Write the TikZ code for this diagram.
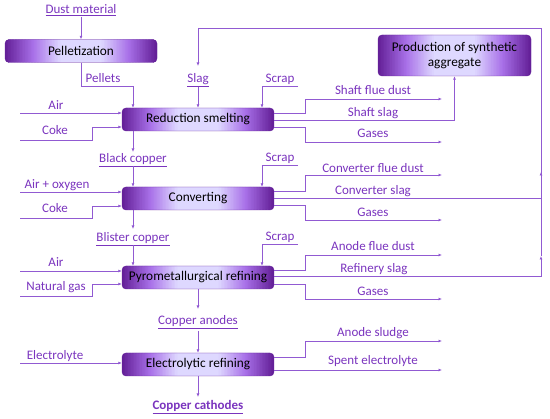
\documentclass[tikz,border=0pt]{standalone}
\usepackage{fontspec}
\setmainfont{Carlito}
\usetikzlibrary{arrows.meta,calc}
\definecolor{boxdark}{RGB}{100,32,152}
\definecolor{boxmid}{RGB}{168,112,232}
\definecolor{boxlight}{RGB}{222,216,255}
\definecolor{txtp}{RGB}{122,52,190}
\definecolor{linep}{RGB}{145,90,210}
\newcommand{\boxgrad}{%
  \foreach \i in {0,...,35}{%
    \pgfmathtruncatemacro\pc{\i<18 ? \i*100/18 : (\i-18)*100/18}%
    \ifnum\i<18 \colorlet{stc}{boxmid!\pc!boxdark}\else\colorlet{stc}{boxlight!\pc!boxmid}\fi
    \pgfmathsetmacro\fa{\i/100}\pgfmathsetmacro\fb{(\i+1.5)/100}%
    \fill[stc] ([yshift=-3pt]$(path picture bounding box.south west)!\fa!(path picture bounding box.south east)$) rectangle ([yshift=3pt]$(path picture bounding box.north west)!\fb!(path picture bounding box.north east)$);
    \pgfmathsetmacro\fa{1-\i/100}\pgfmathsetmacro\fb{1-(\i+1.5)/100}%
    \fill[stc] ([yshift=-3pt]$(path picture bounding box.south west)!\fa!(path picture bounding box.south east)$) rectangle ([yshift=3pt]$(path picture bounding box.north west)!\fb!(path picture bounding box.north east)$);
  }}
\begin{document}
\begin{tikzpicture}[x=1pt,y=-1pt,
  procbox/.style={rounded corners=4pt, fill=boxlight, draw=boxdark, line width=0.4pt,
    path picture={\boxgrad},
    minimum width=152pt, minimum height=23pt, font=\fontsize{13.3}{15}\selectfont, text=black, inner sep=0pt},
  lbl/.style={text=txtp, font=\fontsize{13}{15}\selectfont, inner sep=0pt, anchor=base},
  ln/.style={draw=linep, line width=0.7pt},
  arr/.style={ln, -{Latex[length=3.5pt,width=3pt]}}]
\useasboundingbox (0,0) rectangle (550,419);

% process boxes
\node[procbox] (pel) at (81,51) {Pelletization};
\node[procbox] (rs) at (198,119.5) {Reduction smelting};
\node[procbox, minimum width=153pt, minimum height=41pt, align=center] (psa) at (454.5,55.5) {Production of synthetic\\aggregate};
\node[procbox] (cv) at (198,198.5) {Converting};
\node[procbox] (pr) at (198,277.5) {Pyrometallurgical refining};
\node[procbox] (el) at (198,364.5) {Electrolytic refining};

% top / main flow labels
\node[lbl] (dust) at (81,14) {\underline{Dust material}};
\node[lbl] (pell) at (103,83) {Pellets};
\node[lbl] (slag) at (198,83) {\underline{Slag}};
\node[lbl] (scr1) at (280,83) {Scrap};
\node[lbl] (bc) at (133,163) {\underline{Black copper}};
\node[lbl] (scr2) at (280,162) {Scrap};
\node[lbl] (blc) at (133,242) {\underline{Blister copper}};
\node[lbl] (scr3) at (280,241) {Scrap};
\node[lbl] (ca) at (198,325) {\underline{Copper anodes}};
\node[lbl] (cc) at (198,410) {\underline{\textbf{Copper cathodes}}};

% left inputs
\node[lbl] (air1) at (56,110) {Air};
\node[lbl] (coke1) at (55,135) {Coke};
\node[lbl] (airox) at (57,189) {Air + oxygen};
\node[lbl] (coke2) at (55,213) {Coke};
\node[lbl] (air3) at (56,267) {Air};
\node[lbl] (ng) at (56,291) {Natural gas};
\node[lbl] (elyt) at (55,360) {Electrolyte};

% right outputs
\node[lbl] (sfd) at (373,95) {Shaft flue dust};
\node[lbl] (ss) at (373,117) {Shaft slag};
\node[lbl] (g1) at (373,138) {Gases};
\node[lbl] (cfd) at (373,173) {Converter flue dust};
\node[lbl] (cs) at (373,195) {Converter slag};
\node[lbl] (g2) at (373,217) {Gases};
\node[lbl] (afd) at (373,251) {Anode flue dust};
\node[lbl] (rsl) at (374,273) {Refinery slag};
\node[lbl] (g3) at (373,296) {Gases};
\node[lbl] (asl) at (373,337) {Anode sludge};
\node[lbl] (spe) at (373,365) {Spent electrolyte};

% main vertical flow
\draw[arr] (81,17) -- (pel.north);
\draw[arr] (pel.south) -- (81,86) -- (133,86) -- (rs.north -| 133,0);
\draw[arr] (198,87) -- (rs.north);
\draw[arr] (rs.south -| 133,0) -- (133,152);
\draw[arr] (133,166) -- (cv.north -| 133,0);
\draw[arr] (cv.south -| 133,0) -- (133,229);
\draw[arr] (133,245) -- (pr.north -| 133,0);
\draw[arr] (pr.south) -- (198,309);
\draw[arr] (198,331) -- (el.north);
\draw[arr] (el.south) -- (198,397);

% scrap inputs
\draw[arr] (298,86) -- (262,86) -- (rs.north -| 262,0);
\draw[arr] (298,165) -- (262,165) -- (cv.north -| 262,0);
\draw[arr] (298,244) -- (262,244) -- (pr.north -| 262,0);

% left inputs
\draw[arr] (20,113) -- (rs.west |- 0,113);
\draw[arr] (20,140) -- (92,140) -- (92,127) -- (rs.west |- 0,127);
\draw[arr] (20,192) -- (cv.west |- 0,192);
\draw[arr] (20,218) -- (92,218) -- (92,206) -- (cv.west |- 0,206);
\draw[arr] (20,271) -- (pr.west |- 0,271);
\draw[arr] (20,296) -- (92,296) -- (92,284) -- (pr.west |- 0,284);
\draw[arr] (20,363) -- (el.west |- 0,363);

% right outputs
\draw[arr] (rs.east |- 0,113) -- (305,113) -- (305,99) -- (442,99);
\draw[arr] (rs.east |- 0,120) -- (psa.south |- 0,120) -- (psa.south);
\draw[arr] (rs.east |- 0,127) -- (305,127) -- (305,142) -- (442,142);
\draw[arr] (cv.east |- 0,191) -- (305,191) -- (305,175) -- (442,175);
\draw[arr] (cv.east |- 0,198) -- (541,198) -- (541,172);
\draw[arr] (cv.east |- 0,205) -- (305,205) -- (305,220) -- (442,220);
\draw[arr] (pr.east |- 0,270) -- (305,270) -- (305,255) -- (442,255);
\draw[arr] (pr.east |- 0,276) -- (541,276) -- (541,256);
\draw[arr] (pr.east |- 0,284) -- (305,284) -- (305,299) -- (442,299);
\draw[arr] (el.east |- 0,357) -- (305,357) -- (305,341) -- (442,341);
\draw[arr] (el.east |- 0,370) -- (442,370);

% slag recycle loop
\draw[ln] (541,256) -- (541,28) -- (198,28);
\draw[arr] (198,28) -- (198,66);
\end{tikzpicture}
\end{document}
